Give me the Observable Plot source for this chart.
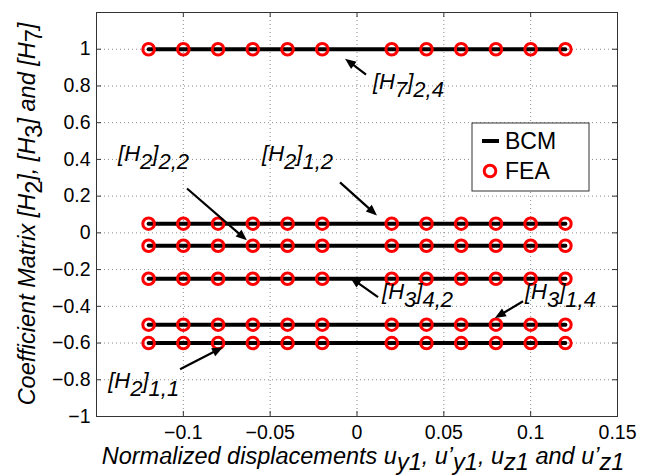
<!DOCTYPE html>
<html>
<head>
<meta charset="utf-8">
<script src="https://cdn.jsdelivr.net/npm/d3@7"></script>
<script src="https://cdn.jsdelivr.net/npm/@observablehq/plot@0.6"></script>
<style>
  html, body { margin: 0; padding: 0; background: #fff; }
  #chart svg { display: block; }
</style>
</head>
<body>
<div id="chart"></div>
<script>
// ---- data ----
const xFEA = [-0.12, -0.10, -0.08, -0.06, -0.04, -0.02, 0.02, 0.04, 0.06, 0.08, 0.10, 0.12];
const xBCM = [-0.12, 0.12];
const seriesNames = ["[H7]2,4", "[H2]1,2", "[H2]2,2", "[H3]4,2", "[H3]1,4", "[H2]1,1"];
const seriesValues = [1, 0.05, -0.07, -0.25, -0.5, -0.6];
const xTicks = [-0.1, -0.05, 0, 0.05, 0.1, 0.15];
const xTickMarks = [-0.15, -0.1, -0.05, 0, 0.05, 0.1, 0.15];
const xGrid = [-0.1, -0.05, 0, 0.05, 0.1];
const yTicks = [-1, -0.8, -0.6, -0.4, -0.2, 0, 0.2, 0.4, 0.6, 0.8, 1];
const yGrid = [-0.8, -0.6, -0.4, -0.2, 0, 0.2, 0.4, 0.6, 0.8, 1];

// annotations: label parts and anchor (text start, main baseline) in data units
const annoMat = ["7", "2", "2", "3", "3", "2"];
const annoIdx = ["2,4", "2,2", "1,2", "4,2", "1,4", "1,1"];
const annoX = [0.0095, -0.1373, -0.0544, 0.0147, 0.097, -0.143];
const annoY = [0.783, 0.386, 0.386, -0.364, -0.364, -0.848];
// arrows: tail (x1,y1) -> head (x2,y2)
const arrX1 = [0.0055, -0.0976, -0.0095, 0.0124, 0.0959, -0.1016];
const arrY1 = [0.859, 0.239, 0.272, -0.353, -0.375, -0.745];
const arrX2 = [-0.0066, -0.0631, 0.0118, -0.0037, 0.0797, -0.0769];
const arrY2 = [0.946, -0.0435, 0.092, -0.245, -0.467, -0.625];

const legendNames = ["BCM", "FEA"];

// ---- tables ----
const bcm = seriesValues.flatMap((v, i) => xBCM.map(x => ({x, y: v, s: seriesNames[i]})));
const fea = seriesValues.flatMap((v, i) => xFEA.map(x => ({x, y: v, s: seriesNames[i]})));

const W = 645, H = 475, mL = 96, mR = 28, mT = 12, mB = 59;
const fw = W - mL - mR, fh = H - mT - mB;
const font = "'Liberation Sans', Arial, Helvetica, sans-serif";

const chart = Plot.plot({
  width: W, height: H,
  marginLeft: mL, marginRight: mR, marginTop: mT, marginBottom: mB,
  x: {domain: [-0.15, 0.15]},
  y: {domain: [-1, 1.2]},
  style: {fontFamily: font, background: "#fff", color: "#000"},
  marks: [
    Plot.gridX(xGrid, {stroke: "#8c8c8c", strokeOpacity: 1, strokeDasharray: "1,3"}),
    Plot.gridY(yGrid, {stroke: "#8c8c8c", strokeOpacity: 1, strokeDasharray: "1,3"}),
    Plot.tickX(xTickMarks, {x: d => d, insetTop: fh - 5, stroke: "#333"}),
    Plot.tickX(xTickMarks, {x: d => d, insetBottom: fh - 5, stroke: "#333"}),
    Plot.tickY(yTicks, {y: d => d, insetRight: fw - 5, stroke: "#333"}),
    Plot.tickY(yTicks, {y: d => d, insetLeft: fw - 5, stroke: "#333"}),
    Plot.axisX(xTicks, {tickSize: 0, tickPadding: 9, fontSize: 19.5, label: null, tickFormat: d3.format("")}),
    Plot.axisY(yTicks, {tickSize: 0, tickPadding: 6, fontSize: 19.5, label: null, tickFormat: d3.format("")}),
    Plot.frame({stroke: "#333"}),
    Plot.line(bcm, {x: "x", y: "y", z: "s", stroke: "#000", strokeWidth: 4}),
    Plot.dot(fea, {x: "x", y: "y", r: 5.8, stroke: "#ff0000", strokeWidth: 3, fill: "none"})
  ]
});

document.getElementById("chart").appendChild(chart);

const sx = chart.scale("x"), sy = chart.scale("y");
const svg = d3.select(chart);
const ann = svg.append("g").attr("font-family", font).attr("text-anchor", "start");

function subText(sel, parts) {
  parts.forEach(p => {
    const t = sel.append("tspan").text(p.t);
    if (p.dy) t.attr("dy", p.dy);
    if (p.it === false) t.attr("font-style", "normal");
  });
}

// annotations
annoMat.forEach((m, i) => {
  const t = ann.append("text")
    .attr("x", sx.apply(annoX[i])).attr("y", sy.apply(annoY[i]))
    .attr("font-size", 22).attr("font-style", "italic").attr("fill", "#000");
  subText(t, [
    {t: "[H"},
    {t: m, dy: 8},
    {t: "]", dy: -8},
    {t: annoIdx[i], dy: 8}
  ]);
});

// arrows
annoMat.forEach((m, i) => {
  const x1 = sx.apply(arrX1[i]), y1 = sy.apply(arrY1[i]);
  const x2 = sx.apply(arrX2[i]), y2 = sy.apply(arrY2[i]);
  const dx = x2 - x1, dy = y2 - y1, L = Math.hypot(dx, dy);
  const ux = dx / L, uy = dy / L, hl = 11, hw = 4.5;
  const bx = x2 - ux * hl, by = y2 - uy * hl;
  ann.append("line").attr("x1", x1).attr("y1", y1).attr("x2", bx + ux).attr("y2", by + uy)
    .attr("stroke", "#000").attr("stroke-width", 2.2);
  ann.append("polygon")
    .attr("points", [[x2, y2], [bx - uy * hw, by + ux * hw], [bx + uy * hw, by - ux * hw]].map(p => p.join(",")).join(" "))
    .attr("fill", "#000");
});

// axis labels
const xl = ann.append("text").attr("x", 363).attr("y", 464).attr("text-anchor", "middle")
  .attr("font-size", 23.5).attr("font-style", "italic");
subText(xl, [
  {t: "Normalized displacements u"}, {t: "y1", dy: 6}, {t: ", u’", dy: -6}, {t: "y1", dy: 6},
  {t: ", u", dy: -6}, {t: "z1", dy: 6}, {t: " and u’", dy: -6}, {t: "z1", dy: 6}
]);

const yl = ann.append("text").attr("transform", `translate(35,${mT + fh / 2}) rotate(-90)`)
  .attr("text-anchor", "middle").attr("font-size", 23.5).attr("font-style", "italic");
subText(yl, [
  {t: "Coefficient Matrix [H"}, {t: "2", dy: 7, it: false}, {t: "], [H", dy: -7}, {t: "3", dy: 7, it: false},
  {t: "] and [H", dy: -7}, {t: "7", dy: 7, it: false}, {t: "]", dy: -7}
]);

// legend
const lg = ann.append("g");
lg.append("rect").attr("x", 472).attr("y", 123).attr("width", 117).attr("height", 68)
  .attr("fill", "#fff").attr("stroke", "#333").attr("stroke-width", 1);
lg.append("line").attr("x1", 482).attr("x2", 499).attr("y1", 141).attr("y2", 141)
  .attr("stroke", "#000").attr("stroke-width", 4);
lg.append("circle").attr("cx", 490).attr("cy", 171).attr("r", 5.8)
  .attr("fill", "none").attr("stroke", "#ff0000").attr("stroke-width", 3);
legendNames.forEach((n, i) => {
  lg.append("text").attr("x", 505).attr("y", 149 + i * 30).attr("font-size", 23).text(n);
});
</script>
</body>
</html>
